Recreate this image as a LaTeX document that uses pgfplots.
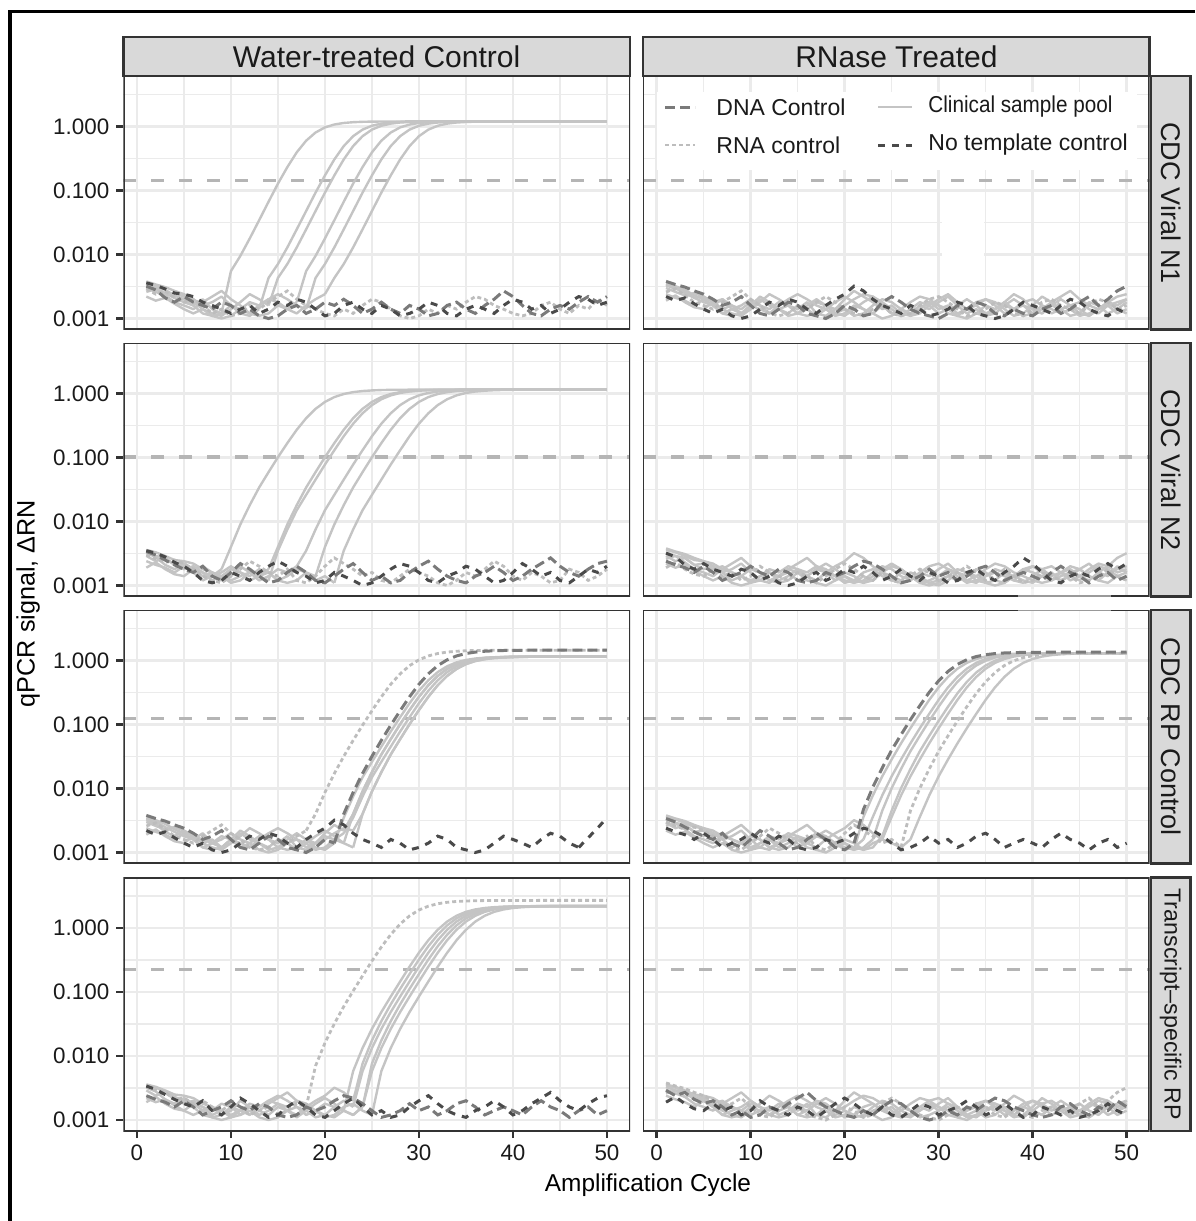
\documentclass[border=0pt]{standalone}
\usepackage{pgfplots}
\pgfplotsset{compat=1.18}
\usepackage{pgfplotstable}
\usepackage{graphicx}
\usepackage{fontspec}
\setmainfont{Liberation Sans}
\definecolor{gridc}{HTML}{EBEBEB}
\definecolor{bordc}{HTML}{333333}
\definecolor{stripc}{HTML}{D9D9D9}
\definecolor{clinc}{HTML}{C4C4C4}
\definecolor{rnac}{HTML}{BDBDBD}
\definecolor{dnac}{HTML}{7A7A7A}
\definecolor{ntcc}{HTML}{4A4A4A}
\definecolor{thrc}{HTML}{B5B5B5}
\definecolor{txtc}{HTML}{1A1A1A}

\pgfplotstableread{
x A B C D E F G H I J K L
1 0.0034 0.0038 0.0030 0.0026 0.0035 0.0022 0.0032 0.0029 0.0019 0.0036 0.0024 0.0033
2 0.0030 0.0034 0.0026 0.0029 0.0032 0.0019 0.0028 0.0024 0.0023 0.0033 0.0021 0.0029
3 0.0025 0.0031 0.0023 0.0023 0.0028 0.0021 0.0021 0.0027 0.0018 0.0029 0.0019 0.0027
4 0.0021 0.0027 0.0025 0.0018 0.0023 0.0017 0.0018 0.0021 0.0015 0.0025 0.0016 0.0021
5 0.0018 0.0024 0.0022 0.0016 0.0020 0.0014 0.0022 0.0018 0.0014 0.0024 0.0020 0.0022
6 0.0016 0.0020 0.0018 0.0014 0.0016 0.0012 0.0018 0.0020 0.0018 0.0022 0.0016 0.0018
7 0.0020 0.0016 0.0014 0.0018 0.0012 0.0014 0.0016 0.0016 0.0014 0.0018 0.0012 0.0020
8 0.0014 0.0018 0.0012 0.0022 0.0011 0.0011 0.0014 0.0012 0.0016 0.0016 0.0014 0.0016
9 0.0012 0.0022 0.0011 0.0027 0.0012 0.0010 0.0018 0.0014 0.0012 0.0014 0.0016 0.0014
10 0.0016 0.0016 0.0014 0.0020 0.0016 0.0011 0.0016 0.0011 0.0014 0.0012 0.0020 0.0018
11 0.0022 0.0012 0.0018 0.0016 0.0014 0.0014 0.0012 0.0012 0.0020 0.0014 0.0016 0.0016
12 0.0018 0.0011 0.0024 0.0012 0.0012 0.0018 0.0014 0.0016 0.0016 0.0016 0.0014 0.0012
13 0.0014 0.0014 0.0020 0.0011 0.0016 0.0016 0.0011 0.0014 0.0014 0.0012 0.0018 0.0014
14 0.0011 0.0018 0.0016 0.0012 0.0020 0.0020 0.0010 0.0018 0.0012 0.0014 0.0016 0.0016
15 0.0012 0.0016 0.0014 0.0016 0.0024 0.0018 0.0011 0.0022 0.0016 0.0018 0.0012 0.0012
16 0.0016 0.0012 0.0018 0.0014 0.0020 0.0014 0.0014 0.0027 0.0014 0.0016 0.0011 0.0014
17 0.0020 0.0011 0.0012 0.0018 0.0016 0.0012 0.0016 0.0020 0.0011 0.0020 0.0012 0.0018
18 0.0016 0.0010 0.0011 0.0022 0.0014 0.0016 0.0012 0.0016 0.0014 0.0018 0.0016 0.0016
19 0.0012 0.0012 0.0014 0.0018 0.0011 0.0020 0.0014 0.0014 0.0018 0.0014 0.0014 0.0012
20 0.0011 0.0016 0.0020 0.0014 0.0012 0.0024 0.0018 0.0012 0.0022 0.0011 0.0016 0.0014
21 0.0014 0.0014 0.0027 0.0012 0.0016 0.0032 0.0016 0.0011 0.0018 0.0012 0.0020 0.0011
22 0.0018 0.0011 0.0022 0.0011 0.0014 0.0027 0.0020 0.0014 0.0014 0.0016 0.0024 0.0012
23 0.0022 0.0012 0.0018 0.0014 0.0012 0.0020 0.0016 0.0012 0.0012 0.0018 0.0022 0.0016
24 0.0016 0.0018 0.0014 0.0016 0.0010 0.0016 0.0012 0.0016 0.0016 0.0014 0.0018 0.0020
25 0.0012 0.0022 0.0016 0.0012 0.0011 0.0014 0.0014 0.0020 0.0012 0.0012 0.0014 0.0018
26 0.0014 0.0018 0.0012 0.0011 0.0014 0.0012 0.0018 0.0018 0.0011 0.0016 0.0011 0.0014
27 0.0011 0.0014 0.0011 0.0012 0.0018 0.0016 0.0014 0.0014 0.0014 0.0014 0.0012 0.0012
28 0.0012 0.0012 0.0014 0.0016 0.0022 0.0014 0.0012 0.0011 0.0018 0.0011 0.0014 0.0016
29 0.0016 0.0011 0.0018 0.0020 0.0020 0.0011 0.0016 0.0010 0.0016 0.0012 0.0018 0.0014
30 0.0020 0.0010 0.0016 0.0022 0.0016 0.0012 0.0014 0.0011 0.0012 0.0014 0.0014 0.0018
31 0.0024 0.0012 0.0014 0.0018 0.0012 0.0014 0.0011 0.0014 0.0014 0.0018 0.0016 0.0022
32 0.0018 0.0016 0.0011 0.0014 0.0011 0.0018 0.0012 0.0012 0.0016 0.0016 0.0012 0.0016
33 0.0014 0.0014 0.0010 0.0011 0.0014 0.0016 0.0016 0.0016 0.0020 0.0012 0.0014 0.0012
34 0.0012 0.0018 0.0012 0.0012 0.0016 0.0012 0.0018 0.0014 0.0016 0.0011 0.0018 0.0014
35 0.0011 0.0016 0.0016 0.0014 0.0020 0.0011 0.0014 0.0018 0.0012 0.0014 0.0020 0.0011
36 0.0014 0.0012 0.0014 0.0018 0.0018 0.0010 0.0012 0.0022 0.0014 0.0016 0.0016 0.0012
37 0.0016 0.0011 0.0018 0.0016 0.0014 0.0011 0.0016 0.0020 0.0018 0.0014 0.0012 0.0016
38 0.0020 0.0014 0.0024 0.0012 0.0011 0.0014 0.0020 0.0016 0.0014 0.0012 0.0014 0.0014
39 0.0016 0.0012 0.0020 0.0011 0.0012 0.0018 0.0027 0.0014 0.0011 0.0016 0.0016 0.0018
40 0.0012 0.0011 0.0014 0.0014 0.0016 0.0016 0.0022 0.0012 0.0012 0.0020 0.0014 0.0020
41 0.0014 0.0014 0.0012 0.0018 0.0022 0.0014 0.0016 0.0011 0.0016 0.0018 0.0012 0.0016
42 0.0018 0.0016 0.0016 0.0020 0.0018 0.0012 0.0012 0.0012 0.0014 0.0014 0.0016 0.0012
43 0.0022 0.0012 0.0014 0.0016 0.0014 0.0016 0.0011 0.0016 0.0012 0.0016 0.0020 0.0014
44 0.0027 0.0014 0.0011 0.0014 0.0016 0.0020 0.0014 0.0018 0.0014 0.0012 0.0016 0.0016
45 0.0020 0.0018 0.0012 0.0012 0.0012 0.0018 0.0016 0.0014 0.0011 0.0014 0.0014 0.0018
46 0.0016 0.0022 0.0018 0.0016 0.0011 0.0014 0.0014 0.0012 0.0012 0.0018 0.0011 0.0014
47 0.0014 0.0016 0.0016 0.0020 0.0014 0.0012 0.0018 0.0016 0.0014 0.0022 0.0014 0.0012
48 0.0018 0.0020 0.0012 0.0018 0.0018 0.0011 0.0022 0.0014 0.0018 0.0020 0.0016 0.0016
49 0.0022 0.0027 0.0014 0.0014 0.0016 0.0014 0.0018 0.0020 0.0014 0.0016 0.0012 0.0018
50 0.0024 0.0032 0.0018 0.0016 0.0020 0.0012 0.0022 0.0016 0.0012 0.0018 0.0014 0.0020
}\noise

\tikzset{
 clin/.style={draw=clinc, line width=1.2pt, line join=round},
 rna/.style={draw=rnac, line width=1.4pt, dash pattern=on 2pt off 1.5pt},
 dna/.style={draw=dnac, line width=1.5pt, dash pattern=on 5pt off 2.5pt},
 ntc/.style={draw=ntcc, line width=1.5pt, dash pattern=on 3.5pt off 3.5pt},
 thr/.style={draw=thrc, line width=1.6pt, dash pattern=on 6.5pt off 7.5pt},
}
\newcommand{\qaxis}[1]{\begin{axis}[scale only axis, width=253.35pt, height=126.75pt,
  xmin=-1.45, xmax=52.45, ymode=log, ymin=6.73e-4, ymax=6.15,
  xtick={0,10,20,30,40,50}, minor xtick={5,15,25,35,45},
  ytick={0.001,0.01,0.1,1}, minor ytick={0.0031623,0.031623,0.31623,3.1623},
  grid=both,
  major grid style={draw=gridc, line width=1.4pt},
  minor grid style={draw=gridc, line width=0.8pt},
  axis line style={draw=none},
  xticklabels={}, yticklabels={},
  xtick style={draw=none}, ytick style={draw=none},
  tick align=outside, major tick length=3.5pt, minor tick length=0pt,
  xtick pos=bottom, ytick pos=left,
  tick label style={font=\fontsize{11.2}{13}\selectfont, text=txtc},
  anchor=north west, #1]}
\newcommand{\qborder}{\draw[bordc, line width=1.3pt] (rel axis cs:0,0) rectangle (rel axis cs:1,1);}
\newcommand{\nz}[2]{\addplot[#1] table[x=x,y=#2]{\noise};}
\newcommand{\nzr}[3]{\addplot[#1,restrict x to domain=1:#3] table[x=x,y=#2]{\noise};}

\begin{document}
\begin{tikzpicture}
\path[use as bounding box] (0,0) rectangle (597.5pt,-610.5pt);

% ---------- Row 1 left ----------
\qaxis{at={(61.65pt,-38pt)}, yticklabels={0.001,0.010,0.100,1.000}, ytick style={draw=bordc, line width=1.3pt}}
\addplot[thr] coordinates {(-1.45,0.143) (52.45,0.143)};
\nzr{clin}{A}{9}
\addplot[clin] coordinates {(9,0.0012)(10,0.0055)(11,0.0095)(12,0.0178)(13,0.0343)(14,0.0667)(15,0.128)(16,0.232)(17,0.395)(18,0.600)(19,0.805)(20,0.968)(21,1.074)(22,1.135)(23,1.167)(24,1.184)(25,1.192)(26,1.196)(27,1.198)(30,1.2)(40,1.2)(50,1.2)};
\nzr{clin}{B}{13}
\addplot[clin] coordinates {(13,0.0014)(14,0.0043)(15,0.0071)(16,0.0129)(17,0.0247)(18,0.0478)(19,0.0926)(20,0.172)(21,0.306)(22,0.494)(23,0.706)(24,0.894)(25,1.027)(26,1.109)(27,1.154)(28,1.177)(29,1.189)(30,1.195)(31,1.198)(35,1.2)(50,1.2)};
\nzr{clin}{C}{14}
\addplot[clin] coordinates {(14,0.0016)(15,0.0043)(16,0.0071)(17,0.0129)(18,0.0247)(19,0.0478)(20,0.0926)(21,0.172)(22,0.306)(23,0.494)(24,0.706)(25,0.894)(26,1.027)(27,1.109)(28,1.154)(29,1.177)(30,1.189)(31,1.195)(32,1.198)(35,1.2)(50,1.2)};
\nzr{clin}{D}{17}
\addplot[clin] coordinates {(17,0.0018)(18,0.0055)(19,0.0095)(20,0.0178)(21,0.0343)(22,0.0667)(23,0.128)(24,0.232)(25,0.395)(26,0.600)(27,0.805)(28,0.968)(29,1.074)(30,1.135)(31,1.167)(32,1.184)(33,1.192)(34,1.196)(35,1.198)(40,1.2)(50,1.2)};
\nzr{clin}{E}{18}
\addplot[clin] coordinates {(18,0.0014)(19,0.0043)(20,0.0071)(21,0.0129)(22,0.0247)(23,0.0478)(24,0.0926)(25,0.172)(26,0.306)(27,0.494)(28,0.706)(29,0.894)(30,1.027)(31,1.109)(32,1.154)(33,1.177)(34,1.189)(35,1.195)(36,1.198)(40,1.2)(50,1.2)};
\nzr{clin}{F}{20}
\addplot[clin] coordinates {(20,0.0024)(21,0.0043)(22,0.0071)(23,0.0129)(24,0.0247)(25,0.0478)(26,0.0926)(27,0.172)(28,0.306)(29,0.494)(30,0.706)(31,0.894)(32,1.027)(33,1.109)(34,1.154)(35,1.177)(36,1.189)(37,1.195)(38,1.198)(40,1.2)(50,1.2)};
\nz{rna}{H}
\nz{dna}{G}
\nz{ntc}{J}
\qborder
\end{axis}

% ---------- Row 1 right ----------
\qaxis{at={(321.5pt,-38pt)}}
\addplot[thr] coordinates {(-1.45,0.143) (52.45,0.143)};
\nz{clin}{I}\nz{clin}{K}\nz{clin}{L}\nz{clin}{A}\nz{clin}{C}\nz{clin}{E}
\nz{rna}{D}
\nz{dna}{B}
\nz{ntc}{F}
\qborder
\end{axis}

% ---------- Row 2 left ----------
\qaxis{at={(61.65pt,-171.5pt)}, yticklabels={0.001,0.010,0.100,1.000}, ytick style={draw=bordc, line width=1.3pt}}
\addplot[thr] coordinates {(-1.45,0.102) (52.45,0.102)};
\nzr{clin}{G}{9}
\addplot[clin] coordinates {(9,0.0018)(10,0.0040)(11,0.0090)(12,0.0180)(13,0.034)(14,0.059)(15,0.101)(16,0.168)(17,0.271)(18,0.411)(19,0.575)(20,0.739)(21,0.879)(22,0.982)(23,1.050)(24,1.093)(25,1.117)(26,1.132)(27,1.140)(28,1.144)(29,1.147)(30,1.148)(31,1.149)(35,1.15)(50,1.15)};
\nzr{clin}{H}{14}
\addplot[clin] coordinates {(14,0.0018)(15,0.0040)(16,0.0090)(17,0.0180)(18,0.034)(19,0.059)(20,0.101)(21,0.168)(22,0.271)(23,0.411)(24,0.575)(25,0.739)(26,0.879)(27,0.982)(28,1.050)(29,1.093)(30,1.117)(31,1.132)(32,1.140)(33,1.144)(34,1.147)(35,1.148)(36,1.149)(40,1.15)(50,1.15)};
\nzr{clin}{I}{14}
\addplot[clin] coordinates {(14,0.0012)(15,0.0035)(16,0.0075)(17,0.0150)(18,0.0261)(19,0.0451)(20,0.0776)(21,0.130)(22,0.215)(23,0.337)(24,0.491)(25,0.659)(26,0.813)(27,0.935)(28,1.020)(29,1.074)(30,1.106)(31,1.125)(32,1.136)(33,1.142)(34,1.146)(35,1.148)(36,1.149)(40,1.15)(50,1.15)};
\nzr{clin}{J}{17}
\addplot[clin] coordinates {(17,0.0020)(18,0.0035)(19,0.0075)(20,0.0150)(21,0.0261)(22,0.0451)(23,0.0776)(24,0.130)(25,0.215)(26,0.337)(27,0.491)(28,0.659)(29,0.813)(30,0.935)(31,1.020)(32,1.074)(33,1.106)(34,1.125)(35,1.136)(36,1.142)(37,1.146)(38,1.148)(39,1.149)(42,1.15)(50,1.15)};
\nzr{clin}{K}{19}
\addplot[clin] coordinates {(19,0.0014)(20,0.0040)(21,0.0090)(22,0.0180)(23,0.034)(24,0.059)(25,0.101)(26,0.168)(27,0.271)(28,0.411)(29,0.575)(30,0.739)(31,0.879)(32,0.982)(33,1.050)(34,1.093)(35,1.117)(36,1.132)(37,1.140)(38,1.144)(39,1.147)(40,1.148)(41,1.149)(45,1.15)(50,1.15)};
\nzr{clin}{L}{21}
\addplot[clin] coordinates {(21,0.0011)(22,0.0035)(23,0.0075)(24,0.0150)(25,0.0261)(26,0.0451)(27,0.0776)(28,0.130)(29,0.215)(30,0.337)(31,0.491)(32,0.659)(33,0.813)(34,0.935)(35,1.020)(36,1.074)(37,1.106)(38,1.125)(39,1.136)(40,1.142)(41,1.146)(42,1.148)(43,1.149)(46,1.15)(50,1.15)};
\nz{rna}{C}
\nz{dna}{A}
\nz{ntc}{E}
\qborder
\end{axis}

% ---------- Row 2 right ----------
\qaxis{at={(321.5pt,-171.5pt)}}
\addplot[thr] coordinates {(-1.45,0.102) (52.45,0.102)};
\nz{clin}{B}\nz{clin}{D}\nz{clin}{F}\nz{clin}{H}\nz{clin}{J}\nz{clin}{L}
\nz{rna}{I}
\nz{dna}{K}
\nz{ntc}{G}
\qborder
\end{axis}

% ---------- Row 3 left ----------
\qaxis{at={(61.65pt,-305pt)}, yticklabels={0.001,0.010,0.100,1.000}, ytick style={draw=bordc, line width=1.3pt}}
\addplot[thr] coordinates {(-1.45,0.123) (52.45,0.123)};
\nzr{clin}{A}{21}
\addplot[clin] coordinates {(21,0.0014)(22,0.0035)(23,0.0075)(24,0.0150)(25,0.0261)(26,0.0451)(27,0.0776)(28,0.130)(29,0.215)(30,0.337)(31,0.491)(32,0.659)(33,0.813)(34,0.935)(35,1.020)(36,1.074)(37,1.106)(38,1.125)(39,1.136)(40,1.142)(41,1.146)(42,1.148)(43,1.149)(46,1.15)(50,1.15)};
\nzr{clin}{C}{22}
\addplot[clin] coordinates {(22,0.0022)(23,0.0040)(24,0.0090)(25,0.0180)(26,0.034)(27,0.059)(28,0.101)(29,0.168)(30,0.271)(31,0.411)(32,0.575)(33,0.739)(34,0.879)(35,0.982)(36,1.050)(37,1.093)(38,1.117)(39,1.132)(40,1.140)(41,1.144)(42,1.147)(43,1.148)(44,1.149)(47,1.15)(50,1.15)};
\nzr{clin}{E}{22}
\addplot[clin] coordinates {(22,0.0014)(23,0.0040)(24,0.0090)(25,0.0180)(26,0.034)(27,0.059)(28,0.101)(29,0.168)(30,0.271)(31,0.411)(32,0.575)(33,0.739)(34,0.879)(35,0.982)(36,1.050)(37,1.093)(38,1.117)(39,1.132)(40,1.140)(41,1.144)(42,1.147)(43,1.148)(44,1.149)(47,1.15)(50,1.15)};
\nzr{clin}{G}{22}
\addplot[clin] coordinates {(22,0.0020)(23,0.0035)(24,0.0075)(25,0.0150)(26,0.0261)(27,0.0451)(28,0.0776)(29,0.130)(30,0.215)(31,0.337)(32,0.491)(33,0.659)(34,0.813)(35,0.935)(36,1.020)(37,1.074)(38,1.106)(39,1.125)(40,1.136)(41,1.142)(42,1.146)(43,1.148)(44,1.149)(47,1.15)(50,1.15)};
\nzr{clin}{I}{23}
\addplot[clin] coordinates {(23,0.0012)(24,0.0040)(25,0.0090)(26,0.0180)(27,0.034)(28,0.059)(29,0.101)(30,0.168)(31,0.271)(32,0.411)(33,0.575)(34,0.739)(35,0.879)(36,0.982)(37,1.050)(38,1.093)(39,1.117)(40,1.132)(41,1.140)(42,1.144)(43,1.147)(44,1.148)(45,1.149)(50,1.15)};
\nzr{clin}{K}{23}
\addplot[clin] coordinates {(23,0.0022)(24,0.0040)(25,0.0090)(26,0.0180)(27,0.034)(28,0.059)(29,0.101)(30,0.168)(31,0.271)(32,0.411)(33,0.575)(34,0.739)(35,0.879)(36,0.982)(37,1.050)(38,1.093)(39,1.117)(40,1.132)(41,1.140)(42,1.144)(43,1.147)(44,1.148)(45,1.149)(50,1.15)};
\nzr{rna}{D}{18}
\addplot[rna] coordinates {(18,0.0022)(19,0.0040)(20,0.0087)(21,0.0172)(22,0.0318)(23,0.0565)(24,0.0975)(25,0.164)(26,0.271)(27,0.425)(28,0.619)(29,0.831)(30,1.025)(31,1.179)(32,1.286)(33,1.354)(34,1.395)(35,1.419)(36,1.433)(37,1.440)(38,1.445)(39,1.447)(40,1.448)(42,1.45)(50,1.45)};
\nzr{dna}{B}{21}
\addplot[dna] coordinates {(21,0.0014)(22,0.0040)(23,0.0087)(24,0.0172)(25,0.0318)(26,0.0565)(27,0.0975)(28,0.164)(29,0.271)(30,0.425)(31,0.619)(32,0.831)(33,1.025)(34,1.179)(35,1.286)(36,1.354)(37,1.395)(38,1.419)(39,1.433)(40,1.440)(41,1.445)(42,1.447)(43,1.448)(45,1.45)(50,1.45)};
\nzr{ntc}{F}{47}
\addplot[ntc] coordinates {(47,0.0012)(48,0.0017)(49,0.0024)(50,0.0035)};
\qborder
\end{axis}

% ---------- Row 3 right ----------
\qaxis{at={(321.5pt,-305pt)}}
\addplot[thr] coordinates {(-1.45,0.123) (52.45,0.123)};
\nzr{clin}{H}{21}
\addplot[clin] coordinates {(21,0.0011)(22,0.0036)(23,0.0078)(24,0.0155)(25,0.0285)(26,0.0508)(27,0.0876)(28,0.147)(29,0.243)(30,0.381)(31,0.555)(32,0.745)(33,0.919)(34,1.057)(35,1.153)(36,1.214)(37,1.251)(38,1.272)(39,1.284)(40,1.291)(41,1.295)(42,1.297)(43,1.2985)(46,1.3)(50,1.3)};
\nzr{clin}{J}{22}
\addplot[clin] coordinates {(22,0.0016)(23,0.0036)(24,0.0078)(25,0.0155)(26,0.0285)(27,0.0508)(28,0.0876)(29,0.147)(30,0.243)(31,0.381)(32,0.555)(33,0.745)(34,0.919)(35,1.057)(36,1.153)(37,1.214)(38,1.251)(39,1.272)(40,1.284)(41,1.291)(42,1.295)(43,1.297)(44,1.2985)(47,1.3)(50,1.3)};
\nzr{clin}{L}{23}
\addplot[clin] coordinates {(23,0.0016)(24,0.0045)(25,0.0101)(26,0.0202)(27,0.0383)(28,0.0667)(29,0.114)(30,0.190)(31,0.307)(32,0.464)(33,0.650)(34,0.836)(35,0.993)(36,1.110)(37,1.187)(38,1.235)(39,1.263)(40,1.279)(41,1.288)(42,1.294)(43,1.296)(44,1.298)(45,1.299)(50,1.3)};
\nzr{clin}{B}{24}
\addplot[clin] coordinates {(24,0.0018)(25,0.0045)(26,0.0101)(27,0.0202)(28,0.0383)(29,0.0667)(30,0.114)(31,0.190)(32,0.307)(33,0.464)(34,0.650)(35,0.836)(36,0.993)(37,1.110)(38,1.187)(39,1.235)(40,1.263)(41,1.279)(42,1.288)(43,1.294)(44,1.296)(45,1.298)(46,1.299)(50,1.3)};
\nzr{clin}{D}{24}
\addplot[clin] coordinates {(24,0.0016)(25,0.0036)(26,0.0078)(27,0.0155)(28,0.0285)(29,0.0508)(30,0.0876)(31,0.147)(32,0.243)(33,0.381)(34,0.555)(35,0.745)(36,0.919)(37,1.057)(38,1.153)(39,1.214)(40,1.251)(41,1.272)(42,1.284)(43,1.291)(44,1.295)(45,1.297)(46,1.2985)(50,1.3)};
\nzr{clin}{F}{27}
\addplot[clin] coordinates {(27,0.0016)(28,0.0036)(29,0.0078)(30,0.0155)(31,0.0285)(32,0.0508)(33,0.0876)(34,0.147)(35,0.243)(36,0.381)(37,0.555)(38,0.745)(39,0.919)(40,1.057)(41,1.153)(42,1.214)(43,1.251)(44,1.272)(45,1.284)(46,1.291)(47,1.295)(48,1.297)(49,1.2985)(50,1.3)};
\nzr{rna}{C}{26}
\addplot[rna] coordinates {(26,0.0012)(27,0.0045)(28,0.0101)(29,0.0202)(30,0.0383)(31,0.0667)(32,0.114)(33,0.190)(34,0.307)(35,0.464)(36,0.650)(37,0.836)(38,0.993)(39,1.110)(40,1.187)(41,1.235)(42,1.263)(43,1.279)(44,1.288)(45,1.294)(46,1.296)(47,1.298)(48,1.299)(50,1.3)};
\nzr{dna}{A}{21}
\addplot[dna] coordinates {(21,0.0014)(22,0.0047)(23,0.0105)(24,0.0210)(25,0.0398)(26,0.0693)(27,0.119)(28,0.197)(29,0.319)(30,0.482)(31,0.675)(32,0.868)(33,1.031)(34,1.153)(35,1.233)(36,1.283)(37,1.312)(38,1.328)(39,1.338)(40,1.343)(41,1.346)(42,1.348)(43,1.349)(46,1.35)(50,1.35)};
\nz{ntc}{K}
\qborder
\end{axis}

% ---------- Row 4 left ----------
\qaxis{at={(61.65pt,-438.75pt)}, yticklabels={0.001,0.010,0.100,1.000}, ytick style={draw=bordc, line width=1.3pt}, xticklabels={0,10,20,30,40,50}, xtick style={draw=bordc, line width=1.3pt}}
\addplot[thr] coordinates {(-1.45,0.224) (52.45,0.224)};
\nzr{clin}{E}{22}
\addplot[clin] coordinates {(22,0.0014)(23,0.0058)(24,0.0133)(25,0.0265)(26,0.0486)(27,0.0849)(28,0.146)(29,0.249)(30,0.411)(31,0.645)(32,0.939)(33,1.261)(34,1.555)(35,1.789)(36,1.951)(37,2.055)(38,2.116)(39,2.153)(40,2.174)(41,2.185)(42,2.192)(43,2.195)(44,2.197)(47,2.2)(50,2.2)};
\nzr{clin}{F}{23}
\addplot[clin] coordinates {(23,0.0020)(24,0.0076)(25,0.0175)(26,0.0350)(27,0.0642)(28,0.112)(29,0.191)(30,0.321)(31,0.519)(32,0.785)(33,1.100)(34,1.415)(35,1.681)(36,1.879)(37,2.009)(38,2.090)(39,2.137)(40,2.165)(41,2.180)(42,2.189)(43,2.194)(44,2.197)(45,2.198)(50,2.2)};
\nzr{clin}{G}{23}
\addplot[clin] coordinates {(23,0.0016)(24,0.0058)(25,0.0133)(26,0.0265)(27,0.0486)(28,0.0849)(29,0.146)(30,0.249)(31,0.411)(32,0.645)(33,0.939)(34,1.261)(35,1.555)(36,1.789)(37,1.951)(38,2.055)(39,2.116)(40,2.153)(41,2.174)(42,2.185)(43,2.192)(44,2.195)(45,2.197)(50,2.2)};
\nzr{clin}{H}{24}
\addplot[clin] coordinates {(24,0.0016)(25,0.0076)(26,0.0175)(27,0.0350)(28,0.0642)(29,0.112)(30,0.191)(31,0.321)(32,0.519)(33,0.785)(34,1.100)(35,1.415)(36,1.681)(37,1.879)(38,2.009)(39,2.090)(40,2.137)(41,2.165)(42,2.180)(43,2.189)(44,2.194)(45,2.197)(46,2.198)(50,2.2)};
\nzr{clin}{I}{24}
\addplot[clin] coordinates {(24,0.0016)(25,0.0058)(26,0.0133)(27,0.0265)(28,0.0486)(29,0.0849)(30,0.146)(31,0.249)(32,0.411)(33,0.645)(34,0.939)(35,1.261)(36,1.555)(37,1.789)(38,1.951)(39,2.055)(40,2.116)(41,2.153)(42,2.174)(43,2.185)(44,2.192)(45,2.195)(46,2.197)(50,2.2)};
\nzr{clin}{J}{25}
\addplot[clin] coordinates {(25,0.0012)(26,0.0058)(27,0.0133)(28,0.0265)(29,0.0486)(30,0.0849)(31,0.146)(32,0.249)(33,0.411)(34,0.645)(35,0.939)(36,1.261)(37,1.555)(38,1.789)(39,1.951)(40,2.055)(41,2.116)(42,2.153)(43,2.174)(44,2.185)(45,2.192)(46,2.195)(47,2.197)(50,2.2)};
\nzr{rna}{L}{18}
\addplot[rna] coordinates {(18,0.0016)(19,0.0070)(20,0.0160)(21,0.0320)(22,0.0593)(23,0.104)(24,0.179)(25,0.305)(26,0.505)(27,0.791)(28,1.153)(29,1.547)(30,1.909)(31,2.195)(32,2.395)(33,2.522)(34,2.597)(35,2.642)(36,2.668)(37,2.682)(38,2.690)(39,2.694)(40,2.697)(43,2.7)(50,2.7)};
\nz{dna}{K}
\nz{ntc}{A}
\qborder
\end{axis}

% ---------- Row 4 right ----------
\qaxis{at={(321.5pt,-438.75pt)}, xticklabels={0,10,20,30,40,50}, xtick style={draw=bordc, line width=1.3pt}}
\addplot[thr] coordinates {(-1.45,0.224) (52.45,0.224)};
\nz{clin}{C}\nz{clin}{D}\nz{clin}{E}\nz{clin}{J}\nz{clin}{K}\nz{clin}{L}
\nz{rna}{B}
\nz{dna}{H}
\nz{ntc}{I}
\qborder
\end{axis}

% ---------- strips ----------
\filldraw[fill=stripc, draw=bordc, line width=1.3pt] (61.65pt,-18.5pt) rectangle (315pt,-38pt);
\node[font=\fontsize{15}{18}\selectfont, text=txtc] at (188.3pt,-28.25pt) {Water-treated Control};
\filldraw[fill=stripc, draw=bordc, line width=1.3pt] (321.5pt,-18.5pt) rectangle (574.85pt,-38pt);
\node[font=\fontsize{15}{18}\selectfont, text=txtc] at (448.2pt,-28.25pt) {RNase Treated};
\filldraw[fill=stripc, draw=bordc, line width=1.3pt] (575.5pt,-38pt) rectangle (595.2pt,-164.75pt);
\node[rotate=-90, font=\fontsize{13.5}{16}\selectfont, text=txtc] at (585.35pt,-101.4pt) {CDC Viral N1};
\filldraw[fill=stripc, draw=bordc, line width=1.3pt] (575.5pt,-171.5pt) rectangle (595.2pt,-298.25pt);
\node[rotate=-90, font=\fontsize{13.5}{16}\selectfont, text=txtc] at (585.35pt,-234.9pt) {CDC Viral N2};
\filldraw[fill=stripc, draw=bordc, line width=1.3pt] (575.5pt,-305pt) rectangle (595.2pt,-431.75pt);
\node[rotate=-90, font=\fontsize{13.5}{16}\selectfont, text=txtc] at (585.35pt,-368.4pt) {CDC RP Control};
\filldraw[fill=stripc, draw=bordc, line width=1.3pt] (575.5pt,-438.75pt) rectangle (595.2pt,-565.5pt);
\node[rotate=-90, font=\fontsize{11.6}{14}\selectfont, text=txtc] at (585.35pt,-502.1pt) {Transcript–specific RP};

% ---------- small white patches present in the original ----------
\fill[white] (470.75pt,-102.5pt) rectangle (491.75pt,-131pt);
\fill[white, opacity=0.5] (509pt,-294.5pt) rectangle (555.5pt,-314pt);

% ---------- axis titles ----------
\node[rotate=90, font=\fontsize{12.6}{15}\selectfont, text=black] at (14pt,-301.75pt) {qPCR signal, ΔRN};
\node[font=\fontsize{12.2}{15}\selectfont, text=black] at (324pt,-592.5pt) {Amplification Cycle};

% ---------- legend ----------
\fill[white] (328.5pt,-46pt) rectangle (568.5pt,-85pt);
\draw[dna] (332.5pt,-53.5pt) -- (347.5pt,-53.5pt);
\node[anchor=west, inner sep=0pt, font=\fontsize{11.5}{14}\selectfont, text=txtc] at (358pt,-53.5pt) {DNA Control};
\draw[rna] (332.5pt,-72.5pt) -- (347.5pt,-72.5pt);
\node[anchor=west, inner sep=0pt, font=\fontsize{11.5}{14}\selectfont, text=txtc] at (358pt,-72.5pt) {RNA control};
\draw[clin] (439pt,-53.5pt) -- (456pt,-53.5pt);
\node[anchor=west, inner sep=0pt, font=\fontsize{11.5}{14}\selectfont, text=txtc] at (464pt,-53.5pt) {\scalebox{0.9}[1]{Clinical sample pool}};
\draw[ntc] (439pt,-72.5pt) -- (456pt,-72.5pt);
\node[anchor=west, inner sep=0pt, font=\fontsize{11.5}{14}\selectfont, text=txtc] at (464pt,-72.5pt) {No template control};

% ---------- outer frame ----------
\draw[black, line width=1.6pt] (5pt,-610.5pt) -- (5pt,-5.8pt) -- (597.5pt,-5.8pt);
\end{tikzpicture}
\end{document}
